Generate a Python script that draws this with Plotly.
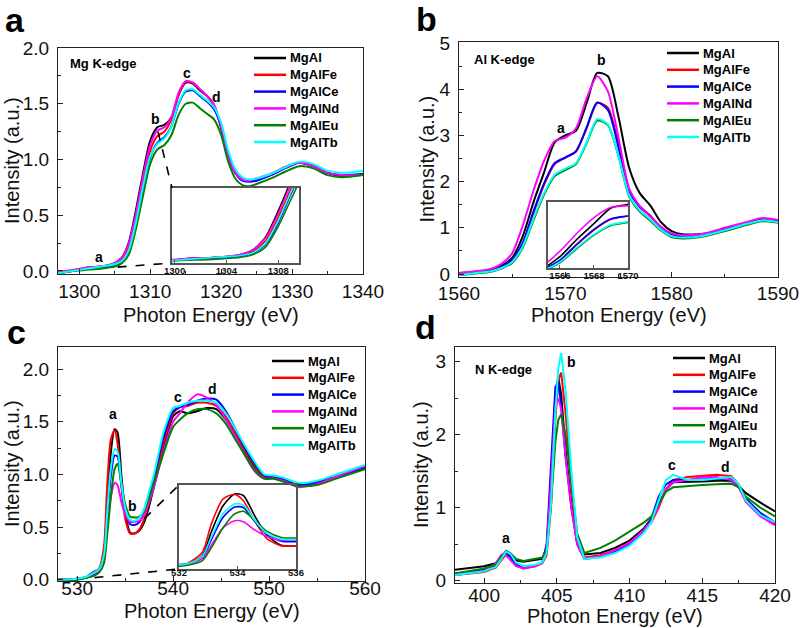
import plotly.graph_objects as go

FONT = "Arial, Liberation Sans, sans-serif"
W, H = 800, 628

series_names = ["MgAl", "MgAlFe", "MgAlCe", "MgAlNd", "MgAlEu", "MgAlTb"]
series_colors = ["#000000", "#ff0000", "#0000ff", "#ff00ff", "#008000", "#00ffff"]

# ---------------- Panel a: Mg K-edge ----------------
mg_energy = [1297, 1299, 1301, 1303, 1304, 1305, 1306, 1307, 1308, 1309, 1310, 1311, 1312, 1313,
             1314, 1315, 1316, 1317, 1318, 1319, 1320, 1321, 1322, 1323, 1324, 1325, 1327, 1329,
             1331, 1333, 1335, 1337, 1340]
mg_MgAl = [-0.02, 0.0, 0.03, 0.04, 0.05, 0.07, 0.12, 0.26, 0.55, 0.88, 1.17, 1.29, 1.31, 1.38,
           1.58, 1.69, 1.68, 1.62, 1.57, 1.49, 1.28, 1.00, 0.88, 0.82, 0.81, 0.82, 0.86, 0.93,
           0.97, 0.94, 0.88, 0.85, 0.87]
mg_MgAlFe = [-0.02, 0.0, 0.03, 0.04, 0.05, 0.06, 0.10, 0.22, 0.48, 0.80, 1.08, 1.21, 1.25, 1.36,
             1.58, 1.70, 1.69, 1.63, 1.57, 1.48, 1.30, 1.03, 0.89, 0.83, 0.81, 0.82, 0.87, 0.93,
             0.97, 0.94, 0.88, 0.86, 0.86]
mg_MgAlCe = [-0.02, 0.0, 0.02, 0.03, 0.04, 0.05, 0.08, 0.18, 0.42, 0.74, 1.02, 1.15, 1.20, 1.30,
             1.50, 1.61, 1.62, 1.57, 1.52, 1.45, 1.30, 1.05, 0.88, 0.81, 0.80, 0.81, 0.86, 0.92,
             0.97, 0.94, 0.88, 0.86, 0.87]
mg_MgAlNd = [-0.01, 0.01, 0.03, 0.04, 0.05, 0.07, 0.12, 0.25, 0.52, 0.85, 1.13, 1.26, 1.29, 1.38,
             1.60, 1.70, 1.69, 1.63, 1.57, 1.49, 1.30, 1.02, 0.88, 0.82, 0.81, 0.83, 0.87, 0.93,
             0.97, 0.94, 0.88, 0.86, 0.86]
mg_MgAlEu = [-0.02, 0.0, 0.01, 0.02, 0.03, 0.04, 0.07, 0.15, 0.38, 0.68, 0.96, 1.09, 1.13, 1.22,
             1.40, 1.50, 1.51, 1.46, 1.41, 1.36, 1.22, 0.98, 0.83, 0.77, 0.76, 0.78, 0.83, 0.89,
             0.94, 0.92, 0.86, 0.84, 0.86]
mg_MgAlTb = [-0.02, 0.0, 0.02, 0.04, 0.05, 0.06, 0.09, 0.19, 0.44, 0.76, 1.03, 1.14, 1.19, 1.30,
             1.51, 1.62, 1.63, 1.58, 1.53, 1.47, 1.33, 1.08, 0.91, 0.84, 0.82, 0.83, 0.87, 0.93,
             0.98, 0.96, 0.90, 0.88, 0.90]

# ---------------- Panel b: Al K-edge ----------------
al_energy = [1560, 1562, 1563, 1564, 1565, 1566, 1567, 1568, 1569, 1570, 1571, 1572, 1573, 1574,
             1575, 1576, 1577, 1578, 1579, 1580, 1581, 1583, 1585, 1587, 1588.5, 1590]
al_MgAl = [0.02, 0.06, 0.10, 0.18, 0.35, 0.82, 1.55, 2.20, 2.85, 3.00, 3.10, 3.70, 4.35, 4.28,
           3.40, 2.30, 1.75, 1.48, 1.12, 0.93, 0.86, 0.87, 0.98, 1.10, 1.18, 1.14]
al_MgAlFe = [0.0, 0.04, 0.07, 0.15, 0.30, 0.66, 1.32, 1.93, 2.38, 2.52, 2.66, 3.15, 3.70, 3.60,
             2.80, 1.82, 1.46, 1.26, 1.00, 0.85, 0.81, 0.84, 0.97, 1.09, 1.17, 1.13]
al_MgAlCe = [0.0, 0.04, 0.07, 0.15, 0.31, 0.68, 1.35, 1.96, 2.40, 2.52, 2.65, 3.17, 3.71, 3.55,
             2.74, 1.80, 1.45, 1.25, 1.00, 0.85, 0.81, 0.84, 0.97, 1.09, 1.17, 1.13]
al_MgAlNd = [0.02, 0.07, 0.11, 0.22, 0.45, 1.05, 1.80, 2.45, 2.88, 2.95, 3.15, 3.80, 4.28, 3.95,
             2.95, 1.85, 1.47, 1.24, 1.02, 0.88, 0.84, 0.87, 1.00, 1.12, 1.21, 1.17]
al_MgAlEu = [-0.03, 0.02, 0.05, 0.12, 0.24, 0.57, 1.16, 1.72, 2.12, 2.25, 2.38, 2.83, 3.32, 3.22,
             2.55, 1.68, 1.35, 1.15, 0.94, 0.80, 0.77, 0.81, 0.93, 1.06, 1.14, 1.11]
al_MgAlTb = [-0.02, 0.03, 0.06, 0.13, 0.26, 0.60, 1.20, 1.75, 2.15, 2.28, 2.40, 2.85, 3.35, 3.24,
             2.56, 1.70, 1.38, 1.18, 0.96, 0.82, 0.79, 0.83, 0.95, 1.08, 1.16, 1.12]

# ---------------- Panel c: O K-edge ----------------
o_energy = [528, 530, 531, 531.8, 532.3, 532.8, 533.1, 533.5, 533.9, 534.2, 534.6, 535, 535.5,
            536, 536.5, 537, 537.5, 538, 539, 540, 540.7, 541.5, 542.5, 543.5, 544.5, 545.5,
            546.5, 547.5, 548.5, 549.5, 550.5, 551.5, 553, 555, 557, 560]
o_MgAl = [0.0, 0.01, 0.02, 0.05, 0.09, 0.25, 0.70, 1.20, 1.43, 1.40, 1.00, 0.65, 0.45, 0.44,
          0.47, 0.55, 0.70, 0.88, 1.25, 1.55, 1.60, 1.58, 1.60, 1.63, 1.62, 1.52, 1.38, 1.22,
          1.07, 0.98, 0.97, 0.95, 0.91, 0.92, 0.98, 1.07]
o_MgAlFe = [0.0, 0.01, 0.02, 0.06, 0.11, 0.32, 0.85, 1.33, 1.42, 1.30, 0.90, 0.58, 0.44, 0.44,
            0.48, 0.58, 0.74, 0.92, 1.30, 1.58, 1.64, 1.65, 1.68, 1.68, 1.65, 1.55, 1.40, 1.23,
            1.08, 0.98, 0.97, 0.96, 0.91, 0.93, 0.99, 1.08]
o_MgAlCe = [0.0, 0.01, 0.03, 0.08, 0.10, 0.22, 0.55, 0.98, 1.18, 1.17, 0.90, 0.66, 0.53, 0.52,
            0.55, 0.64, 0.80, 0.97, 1.35, 1.60, 1.64, 1.66, 1.70, 1.72, 1.71, 1.60, 1.43, 1.25,
            1.10, 0.99, 0.97, 0.95, 0.90, 0.92, 0.98, 1.06]
o_MgAlNd = [0.0, 0.01, 0.02, 0.06, 0.09, 0.20, 0.45, 0.78, 0.92, 0.90, 0.74, 0.62, 0.55, 0.55,
            0.56, 0.62, 0.74, 0.88, 1.22, 1.50, 1.58, 1.68, 1.76, 1.73, 1.66, 1.52, 1.36, 1.18,
            1.03, 0.96, 0.96, 0.94, 0.88, 0.91, 0.98, 1.08]
o_MgAlEu = [0.0, 0.0, 0.02, 0.04, 0.07, 0.16, 0.40, 0.78, 1.05, 1.10, 0.92, 0.72, 0.60, 0.59,
            0.60, 0.66, 0.78, 0.92, 1.20, 1.45, 1.52, 1.58, 1.62, 1.62, 1.58, 1.48, 1.33, 1.18,
            1.04, 0.96, 0.96, 0.93, 0.89, 0.90, 0.96, 1.05]
o_MgAlTb = [0.0, 0.01, 0.03, 0.07, 0.10, 0.24, 0.60, 1.05, 1.24, 1.22, 0.92, 0.68, 0.57, 0.56,
            0.59, 0.68, 0.84, 1.00, 1.40, 1.63, 1.65, 1.68, 1.70, 1.70, 1.68, 1.58, 1.43, 1.27,
            1.12, 1.00, 0.99, 0.97, 0.92, 0.94, 1.00, 1.09]

# ---------------- Panel d: N K-edge ----------------
n_energy = [398, 399, 400, 400.8, 401.2, 401.5, 401.8, 402.2, 402.7, 403.5, 404.0, 404.3, 404.6,
            404.9, 405.1, 405.3, 405.6, 406.0, 406.4, 406.9, 408, 409, 410, 411, 411.5, 412,
            412.5, 413, 414, 415, 416, 417, 417.5, 418, 419, 420]
n_MgAl = [0.15, 0.17, 0.20, 0.24, 0.32, 0.38, 0.34, 0.28, 0.26, 0.28, 0.30, 0.45, 1.30, 2.55,
          2.78, 2.55, 1.80, 1.05, 0.52, 0.36, 0.38, 0.45, 0.55, 0.72, 0.85, 1.05, 1.25, 1.35,
          1.35, 1.36, 1.37, 1.37, 1.30, 1.20, 1.07, 0.95]
n_MgAlFe = [0.08, 0.10, 0.12, 0.18, 0.28, 0.36, 0.34, 0.22, 0.17, 0.20, 0.24, 0.35, 1.00, 2.20,
            2.75, 2.85, 2.30, 1.30, 0.55, 0.32, 0.35, 0.42, 0.52, 0.68, 0.80, 1.00, 1.25, 1.38,
            1.42, 1.44, 1.45, 1.43, 1.32, 1.12, 0.92, 0.78]
n_MgAlCe = [0.10, 0.12, 0.15, 0.20, 0.32, 0.38, 0.33, 0.22, 0.18, 0.21, 0.25, 0.50, 1.50, 2.65,
            2.72, 2.40, 1.70, 1.00, 0.50, 0.30, 0.33, 0.40, 0.50, 0.68, 0.85, 1.15, 1.32, 1.38,
            1.38, 1.39, 1.40, 1.40, 1.30, 1.12, 0.93, 0.80]
n_MgAlNd = [0.08, 0.10, 0.13, 0.24, 0.36, 0.35, 0.28, 0.20, 0.17, 0.20, 0.24, 0.45, 1.35, 2.40,
            2.50, 2.35, 1.70, 1.00, 0.50, 0.30, 0.34, 0.42, 0.52, 0.70, 0.82, 1.02, 1.25, 1.35,
            1.38, 1.42, 1.42, 1.38, 1.28, 1.08, 0.88, 0.76]
n_MgAlEu = [0.10, 0.13, 0.17, 0.22, 0.33, 0.41, 0.38, 0.30, 0.27, 0.30, 0.32, 0.42, 1.05, 1.90,
            2.20, 2.28, 2.00, 1.35, 0.65, 0.38, 0.45, 0.55, 0.68, 0.80, 0.88, 1.05, 1.22, 1.28,
            1.30, 1.31, 1.32, 1.33, 1.28, 1.15, 1.00, 0.88]
n_MgAlTb = [0.08, 0.10, 0.13, 0.19, 0.30, 0.40, 0.37, 0.25, 0.20, 0.22, 0.25, 0.38, 1.05, 2.30,
            2.90, 3.12, 2.60, 1.50, 0.60, 0.30, 0.32, 0.38, 0.48, 0.66, 0.80, 1.10, 1.38, 1.45,
            1.38, 1.38, 1.40, 1.42, 1.32, 1.10, 0.90, 0.80]

# tick / range settings
mg_xrange, mg_yrange = [1297, 1340], [-0.027, 2.0]
al_xrange, al_yrange = [1560, 1590], [-0.065, 5.02]
o_xrange, o_yrange = [528, 560], [-0.012, 2.21]
n_xrange, n_yrange = [398, 420], [-0.03, 3.2]
mg_inset_x, mg_inset_y = [1299.8, 1309.6], [-0.02, 0.8]
al_inset_x, al_inset_y = [1565.3, 1570.0], [0.35, 3.1]
o_inset_x, o_inset_y = [532, 536], [0.0, 1.6]


def dx(p):
    return p / W


def dy(p):
    return 1 - p / H


# pixel boxes (left, right, top, bottom)
boxes = {
    "a": (58, 363, 48, 274),
    "b": (459, 778, 42, 277),
    "c": (58, 365, 347, 581),
    "d": (455, 775, 347, 583),
    "ia": (172, 299, 188, 263),
    "ib": (548, 628, 202, 268),
    "ic": (179, 296, 485, 569),
}


def dom(key):
    l, r, t, b = boxes[key]
    return [dx(l), dx(r)], [dy(b), dy(t)]


fig = go.Figure()

panels = [
    ("x", "y", mg_energy, [mg_MgAl, mg_MgAlFe, mg_MgAlCe, mg_MgAlNd, mg_MgAlEu, mg_MgAlTb], "spline"),
    ("x2", "y2", al_energy, [al_MgAl, al_MgAlFe, al_MgAlCe, al_MgAlNd, al_MgAlEu, al_MgAlTb], "spline"),
    ("x3", "y3", o_energy, [o_MgAl, o_MgAlFe, o_MgAlCe, o_MgAlNd, o_MgAlEu, o_MgAlTb], "spline"),
    ("x4", "y4", n_energy, [n_MgAl, n_MgAlFe, n_MgAlCe, n_MgAlNd, n_MgAlEu, n_MgAlTb], "linear"),
]
insets = [("x5", "y5", 0), ("x6", "y6", 1), ("x7", "y7", 2)]

for xa, ya, xs, ys_list, shape in panels:
    for name, color, ys in zip(series_names, series_colors, ys_list):
        fig.add_trace(go.Scatter(x=xs, y=ys, mode="lines", name=name, showlegend=False,
                                 line=dict(color=color, width=2, shape=shape, smoothing=0.7),
                                 xaxis=xa, yaxis=ya))

for xa, ya, pi in insets:
    _, _, xs, ys_list, shape = panels[pi]
    for name, color, ys in zip(series_names, series_colors, ys_list):
        fig.add_trace(go.Scatter(x=xs, y=ys, mode="lines", name=name, showlegend=False,
                                 line=dict(color=color, width=1.6, shape=shape, smoothing=0.7),
                                 xaxis=xa, yaxis=ya))

LINEC = "#222222"


def main_x(key, rng, dtick, minor, anchor, standoff):
    d, _ = dom(key)
    return dict(domain=d, range=rng, anchor=anchor, dtick=dtick, tick0=0, automargin=False,
                showline=True, linecolor=LINEC, linewidth=1.3, mirror=True,
                ticks="inside", ticklen=5, tickwidth=1.2, tickcolor=LINEC,
                minor=dict(ticks="inside", ticklen=3, tickwidth=1, tickcolor=LINEC, dtick=minor),
                showgrid=False, zeroline=False, ticklabelstandoff=standoff,
                tickfont=dict(size=19, family=FONT, color="#111"))


def main_y(key, rng, dtick, minor, anchor, fmt):
    _, d = dom(key)
    return dict(domain=d, range=rng, anchor=anchor, dtick=dtick, tick0=0, tickformat=fmt,
                automargin=False,
                showline=True, linecolor=LINEC, linewidth=1.3, mirror=True,
                ticks="inside", ticklen=5, tickwidth=1.2, tickcolor=LINEC,
                minor=dict(ticks="inside", ticklen=3, tickwidth=1, tickcolor=LINEC, dtick=minor),
                showgrid=False, zeroline=False, ticklabelstandoff=4,
                tickfont=dict(size=19, family=FONT, color="#111"))


def inset_x(key, rng, dtick, anchor, standoff):
    d, _ = dom(key)
    return dict(domain=d, range=rng, anchor=anchor, dtick=dtick, tick0=0, automargin=False,
                showline=True, linecolor="#555", linewidth=1.6, mirror=True,
                ticks="inside", ticklen=3, tickcolor="#555", showgrid=False, zeroline=False,
                ticklabelstandoff=standoff,
                tickfont=dict(size=9.5, family=FONT, color="#111", weight="bold"))


def inset_y(key, rng, anchor):
    _, d = dom(key)
    return dict(domain=d, range=rng, anchor=anchor, showticklabels=False, ticks="",
                automargin=False,
                showline=True, linecolor="#555", linewidth=1.6, mirror=True,
                showgrid=False, zeroline=False)


fig.update_layout(
    template="none",
    width=W, height=H, margin=dict(l=0, r=0, t=0, b=0, pad=0),
    paper_bgcolor="white", plot_bgcolor="rgba(0,0,0,0)", showlegend=False,
    font=dict(family=FONT, color="#111"),
    xaxis=main_x("a", mg_xrange, 10, 5, "y", 0),
    yaxis=main_y("a", mg_yrange, 0.5, 0.25, "x", ".1f"),
    xaxis2=main_x("b", al_xrange, 10, 5, "y2", -1),
    yaxis2=main_y("b", al_yrange, 1, 0.5, "x2", "d"),
    xaxis3=main_x("c", o_xrange, 10, 5, "y3", -10),
    yaxis3=main_y("c", o_yrange, 0.5, 0.25, "x3", ".1f"),
    xaxis4=main_x("d", n_xrange, 5, 2.5, "y4", -5),
    yaxis4=main_y("d", n_yrange, 1, 0.5, "x4", "d"),
    xaxis5=inset_x("ia", mg_inset_x, 4, "y5", -2),
    yaxis5=inset_y("ia", mg_inset_y, "x5"),
    xaxis6=inset_x("ib", al_inset_x, 2, "y6", -2),
    yaxis6=inset_y("ib", al_inset_y, "x6"),
    xaxis7=inset_x("ic", o_inset_x, 2, "y7", -6),
    yaxis7=inset_y("ic", o_inset_y, "x7"),
)

annotations = []
shapes = []

# panel letters
for letter, (cx, cy) in {"a": (15, 20), "b": (426, 19), "c": (16, 332), "d": (425, 327)}.items():
    annotations.append(dict(text=letter, x=dx(cx), y=dy(cy), xref="paper", yref="paper",
                            showarrow=False, xanchor="center", yanchor="middle",
                            font=dict(size=34, family=FONT, color="black", weight="bold")))

# axis titles
title_y = {"a": 315, "b": 315, "c": 611, "d": 616}
for key in ["a", "b", "c", "d"]:
    l, r, t, b = boxes[key]
    annotations.append(dict(text="Photon Energy (eV)", x=dx((l + r) / 2), y=dy(title_y[key]),
                            xref="paper", yref="paper", showarrow=False,
                            xanchor="center", yanchor="middle",
                            font=dict(size=20, family=FONT, color="#111")))
    yx = {"a": 12, "b": 426, "c": 12, "d": 421}[key]
    annotations.append(dict(text="Intensity (a.u.)", x=dx(yx), y=dy((t + b) / 2),
                            xref="paper", yref="paper", showarrow=False, textangle=-90,
                            xanchor="center", yanchor="middle",
                            font=dict(size=20, family=FONT, color="#111")))

# edge labels
for text, (lx, ly) in {"Mg K-edge": (68, 64), "Al K-edge": (472, 60), "N K-edge": (473, 369)}.items():
    annotations.append(dict(text=text, x=dx(lx), y=dy(ly), xref="paper", yref="paper",
                            showarrow=False, xanchor="left", yanchor="middle",
                            font=dict(size=13, family=FONT, color="black", weight="bold")))

# peak labels (data coordinates)
peak_labels = [
    ("x", "y", [("a", 1302.8, 0.13), ("b", 1310.7, 1.36), ("c", 1315.2, 1.78), ("d", 1319.3, 1.56)]),
    ("x2", "y2", [("a", 1569.6, 3.16), ("b", 1573.4, 4.63)]),
    ("x3", "y3", [("a", 533.7, 1.57), ("b", 535.8, 0.70), ("c", 540.5, 1.74), ("d", 544.1, 1.81)]),
    ("x4", "y4", [("a", 401.5, 0.58), ("b", 406.0, 2.99), ("c", 412.9, 1.59), ("d", 416.6, 1.56)]),
]
for xa, ya, items in peak_labels:
    for t, x, y in items:
        annotations.append(dict(text=t, x=x, y=y, xref=xa, yref=ya, showarrow=False,
                                xanchor="center", yanchor="middle",
                                font=dict(size=14, family=FONT, color="black", weight="bold")))

# custom legends
legend_pos = {"a": (254, 58), "b": (667, 53), "c": (272, 361), "d": (673, 358)}
for key, (lx, ly) in legend_pos.items():
    for i, (name, color) in enumerate(zip(series_names, series_colors)):
        yy = ly + i * 16.8
        shapes.append(dict(type="line", xref="paper", yref="paper", x0=dx(lx), x1=dx(lx + 32),
                           y0=dy(yy), y1=dy(yy), line=dict(color=color, width=2.5)))
        annotations.append(dict(text=name, x=dx(lx + 34), y=dy(yy), xref="paper", yref="paper",
                                showarrow=False, xanchor="left", yanchor="middle",
                                font=dict(size=13, family=FONT, color="black", weight="bold")))


def data_to_px(key, rngx, rngy, x, y):
    l, r, t, b = boxes[key]
    return (l + (x - rngx[0]) / (rngx[1] - rngx[0]) * (r - l),
            b - (y - rngy[0]) / (rngy[1] - rngy[0]) * (b - t))


# dashed connectors from the main curve to the inset corners
connectors = [
    ("a", mg_xrange, mg_yrange, "ia", [(1311.1, 1.25, "top"), (1305.4, 0.035, "bottom")]),
    ("c", o_xrange, o_yrange, "ic", [(537.0, 0.58, "top"), (531.8, 0.02, "bottom")]),
]
for key, rx, ry, ikey, pts in connectors:
    il, ir, it, ib = boxes[ikey]
    for x, y, corner in pts:
        p0 = data_to_px(key, rx, ry, x, y)
        p1 = (il, it if corner == "top" else ib)
        shapes.append(dict(type="line", xref="paper", yref="paper",
                           x0=dx(p0[0]), y0=dy(p0[1]), x1=dx(p1[0]), y1=dy(p1[1]),
                           line=dict(color="black", width=1.6, dash="dash")))

fig.update_layout(annotations=annotations, shapes=shapes)
fig.write_html("out.html")
